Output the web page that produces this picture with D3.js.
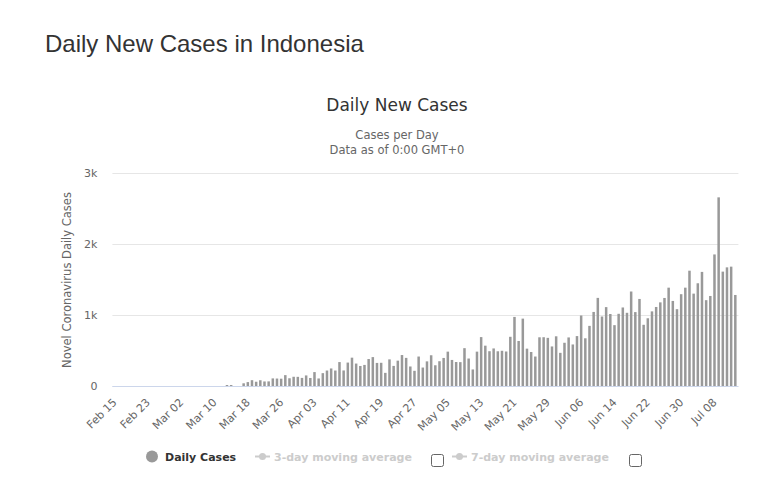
<!DOCTYPE html>
<html>
<head>
<meta charset="utf-8">
<script src="https://cdn.jsdelivr.net/npm/d3@7"></script>
<style>
  html, body { margin: 0; padding: 0; background: #fff; }
  svg { display: block; }
</style>
</head>
<body>
<svg id="chart" width="763" height="489"></svg>
<script>
// ---- data ----
const startDate = "2020-02-15";
const endDate = "2020-07-13";
const dailyCases = [
  0,0,0,0,0,0,0,0,0,0,0,0,0,0,0,            // Feb 15 - Feb 29
  0,0,0,0,0,0,0,0,0,0,0,0,14,14,0,0,        // Mar 1 - Mar 16
  38,55,82,60,81,64,65,107,105,103,153,109,130,129,114, // Mar 17 - Mar 31
  149,113,196,106,181,218,247,218,337,219,330,399,316,282,297,380,407,325,327,185,
  375,283,357,436,396,275,214,415,260,347,                 // April
  433,292,349,395,484,367,338,336,533,387,233,484,689,568,490,529,489,496,486,693,
  973,634,949,526,479,415,686,687,678,557,700,             // May
  467,609,684,585,703,993,672,847,1043,1241,979,1111,1014,857,1017,1106,1031,1331,1041,1226,
  862,954,1051,1113,1178,1240,1385,1198,1082,1293,         // June
  1385,1624,1301,1447,1607,1209,1268,1853,2657,1611,1671,1681,1282 // Jul 1 - Jul 13
];
const xTickLabels = ["Feb 15","Feb 23","Mar 02","Mar 10","Mar 18","Mar 26","Apr 03","Apr 11",
  "Apr 19","Apr 27","May 05","May 13","May 21","May 29","Jun 06","Jun 14","Jun 22","Jun 30","Jul 08"];
const yTickValues = [0, 1000, 2000, 3000];
const yTickLabels = ["0", "1k", "2k", "3k"];
const legendItems = ["Daily Cases", "3-day moving average", "7-day moving average"];

// ---- setup ----
const parse = d3.timeParse("%Y-%m-%d");
const fmt = d3.timeFormat("%b %d");
const dates = d3.timeDay.range(parse(startDate), d3.timeDay.offset(parse(endDate), 1));
const data = dates.map((d, i) => ({ date: d, label: fmt(d), value: dailyCases[i] }));

const svg = d3.select("#chart");
const chartFont = "'DejaVu Sans', Verdana, sans-serif";

const plot = { left: 112.4, right: 737.4, top: 173, bottom: 386 };

const x = d3.scaleBand()
  .domain(data.map(d => d.label))
  .range([plot.left, plot.right])
  .padding(0);

const y = d3.scaleLinear().domain([0, 3000]).range([plot.bottom, plot.top]);

// main page title
svg.append("text")
  .attr("x", 45).attr("y", 52)
  .attr("font-family", "'Liberation Sans', Arial, Helvetica, sans-serif")
  .attr("font-size", 24)
  .attr("fill", "#333")
  .text("Daily New Cases in Indonesia");

// chart title & subtitle
svg.append("text")
  .attr("x", 397).attr("y", 111)
  .attr("text-anchor", "middle")
  .attr("font-family", chartFont)
  .attr("font-size", 17)
  .attr("fill", "#333")
  .text("Daily New Cases");

svg.append("text")
  .attr("x", 397).attr("y", 139)
  .attr("text-anchor", "middle")
  .attr("font-family", chartFont)
  .attr("font-size", 11.5)
  .attr("fill", "#666")
  .text("Cases per Day");
svg.append("text")
  .attr("x", 397).attr("y", 154)
  .attr("text-anchor", "middle")
  .attr("font-family", chartFont)
  .attr("font-size", 11.5)
  .attr("fill", "#666")
  .text("Data as of 0:00 GMT+0");

// gridlines
const yAxis = d3.axisLeft(y)
  .tickValues(yTickValues)
  .tickFormat((d, i) => yTickLabels[i])
  .tickSize(-(plot.right - plot.left + 1))
  .tickPadding(15);

const gy = svg.append("g")
  .attr("transform", `translate(${plot.left},0)`)
  .call(yAxis);
gy.select(".domain").remove();
gy.selectAll(".tick line").attr("stroke", "#e6e6e6");
gy.selectAll(".tick text")
  .attr("font-family", chartFont)
  .attr("font-size", 11)
  .attr("fill", "#666");

// y axis title
svg.append("text")
  .attr("transform", `translate(71,280) rotate(-90)`)
  .attr("text-anchor", "middle")
  .attr("font-family", chartFont)
  .attr("font-size", 11.5)
  .attr("fill", "#666")
  .text("Novel Coronavirus Daily Cases");

// bars
const barW = x.bandwidth() * 0.6;
svg.append("g").selectAll("rect")
  .data(data)
  .join("rect")
  .attr("x", d => x(d.label) + (x.bandwidth() - barW) / 2)
  .attr("y", d => y(d.value))
  .attr("width", barW)
  .attr("height", d => y(0) - y(d.value))
  .attr("fill", "#999");

// x axis
const xAxis = d3.axisBottom(x)
  .tickValues(xTickLabels)
  .tickSize(0)
  .tickPadding(0);
const gx = svg.append("g")
  .attr("transform", `translate(0,${plot.bottom})`)
  .call(xAxis);
gx.select(".domain").attr("stroke", "#ccd6eb").attr("d", `M${plot.left},0.5H${plot.right + 1}`);
gx.selectAll(".tick text")
  .attr("font-family", chartFont)
  .attr("font-size", 11)
  .attr("fill", "#666")
  .attr("text-anchor", "end")
  .attr("dy", 0)
  .attr("y", 0)
  .attr("transform", "translate(3,17) rotate(-45)");

// legend
const lg = svg.append("g").attr("font-family", chartFont).attr("font-size", 11).attr("font-weight", "bold");
lg.append("circle").attr("cx", 152).attr("cy", 456.5).attr("r", 6).attr("fill", "#999");
lg.append("text").attr("x", 165).attr("y", 461).attr("fill", "#333").text(legendItems[0]);

function lineSymbol(x0) {
  lg.append("line").attr("x1", x0).attr("x2", x0 + 15).attr("y1", 456.5).attr("y2", 456.5)
    .attr("stroke", "#ccc").attr("stroke-width", 2);
  lg.append("circle").attr("cx", x0 + 7.5).attr("cy", 456.5).attr("r", 3.5).attr("fill", "#ccc");
}
lineSymbol(255);
lg.append("text").attr("x", 274).attr("y", 461).attr("fill", "#ccc").text(legendItems[1]);
lineSymbol(452);
lg.append("text").attr("x", 471).attr("y", 461).attr("fill", "#ccc").text(legendItems[2]);

function checkbox(x0) {
  svg.append("rect").attr("x", x0 + 0.5).attr("y", 454.5).attr("width", 12).attr("height", 12)
    .attr("rx", 2).attr("fill", "#fff").attr("stroke", "#666").attr("stroke-width", 1);
}
checkbox(431);
checkbox(629);
</script>
</body>
</html>
